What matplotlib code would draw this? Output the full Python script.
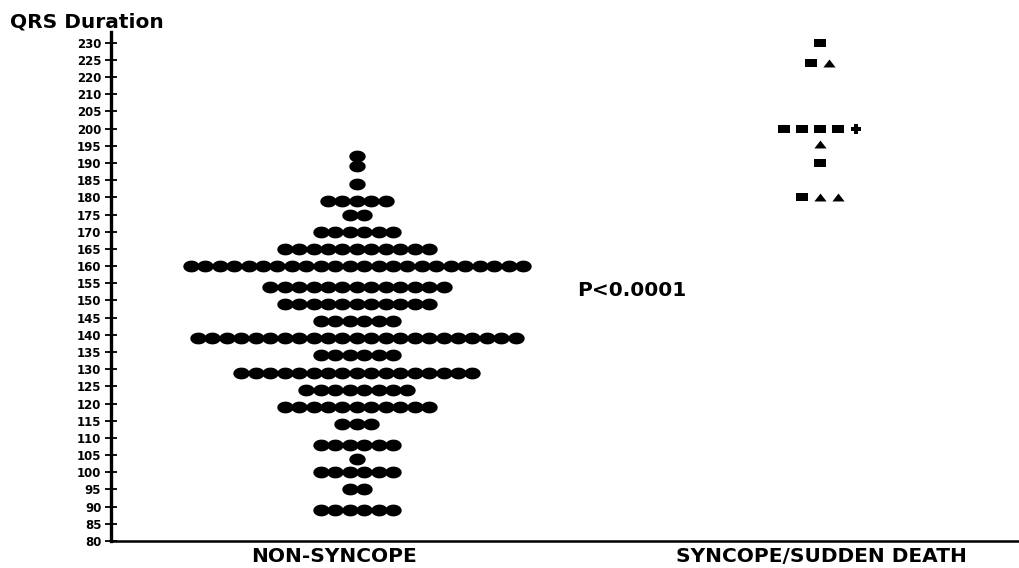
import numpy as np
import matplotlib
matplotlib.use("Agg")
import matplotlib.pyplot as plt

# printed axis labels (note: the scale skips 215)
ylabels = [80, 85, 90, 95, 100, 105, 110, 115, 120, 125, 130, 135, 140, 145, 150,
           155, 160, 165, 170, 175, 180, 185, 190, 195, 200, 205, 210, 220, 225, 230]

# non-syncope: QRS value of each row and number of patients in it
nonsync_qrs = [192, 189, 184, 179, 175, 170, 165, 160, 154, 149, 144,
               139, 134, 129, 124, 119, 114, 108, 104, 100, 95, 89]
nonsync_n = [1, 1, 1, 5, 2, 6, 11, 24, 13, 11, 6,
             23, 6, 17, 8, 11, 3, 6, 1, 6, 2, 6]

# syncope / sudden death: row value and the symbols in that row
sync_qrs = [231, 224, 200, 195.5, 190, 180]
sync_marks = ["s", "s^", "ssssP", "^", "s", "s^^"]

categories = ["NON-SYNCOPE", "SYNCOPE/SUDDEN DEATH"]

ticks = np.arange(80, 230, 5)


def ypos(v):
    return np.interp(v, ylabels, ticks)


ell = [(np.cos(t), 0.72 * np.sin(t)) for t in np.linspace(0, 2 * np.pi, 40)]
rect = [(-1, -0.65), (1, -0.65), (1, 0.65), (-1, 0.65), (-1, -0.65)]
tri = [(0, 0.65), (-1, -0.65), (1, -0.65), (0, 0.65)]
shapes = {"s": (rect, 8.3), "^": (tri, 8.8), "P": ("P", 6.5)}

fig = plt.figure(figsize=(10.19, 5.68), dpi=100)
ax = fig.add_axes([0.109, 0.0475, 0.891, 0.896])

# left group: rows of dots centred on category 0
step = 0.0312
for v, n in zip(nonsync_qrs, nonsync_n):
    xs = (np.arange(n) - (n - 1) / 2) * step
    ax.plot(xs, np.full(n, ypos(v)), linestyle="none", marker=ell,
            markersize=11.8, color="black", markeredgewidth=0)

# right group
step2 = 0.039
for v, marks in zip(sync_qrs, sync_marks):
    n = len(marks)
    for i, m in enumerate(marks):
        x = 1 + (i - (n - 1) / 2) * step2
        mk, ms = shapes[m]
        ax.plot(x, ypos(v), linestyle="none", marker=mk, markersize=ms,
                color="black", markeredgewidth=0)

ax.set_xlim(-0.531, 1.430)
ax.set_ylim(80, 228.1)
ax.set_yticks(ticks)
ax.set_yticklabels([str(l) for l in ylabels], fontsize=8.5, fontweight="bold")
ax.tick_params(axis="y", direction="inout", length=8, width=1.3, pad=3)
ax.set_xticks([])

for s in ["top", "right"]:
    ax.spines[s].set_visible(False)
ax.spines["left"].set_linewidth(2.4)
ax.spines["bottom"].set_linewidth(1.8)

fig.text(0.010, 0.962, "QRS Duration", fontsize=14.5, fontweight="bold",
         va="center", ha="left")
fig.text(0.566, 0.489, "P<0.0001", fontsize=14.5,
         fontweight="bold", va="center", ha="left")
fig.text(0.328, 0.021, categories[0], fontsize=14.5, fontweight="bold",
         ha="center", va="center")
fig.text(0.806, 0.021, categories[1], fontsize=14.5, fontweight="bold",
         ha="center", va="center")

fig.savefig("out.png", dpi=100)
